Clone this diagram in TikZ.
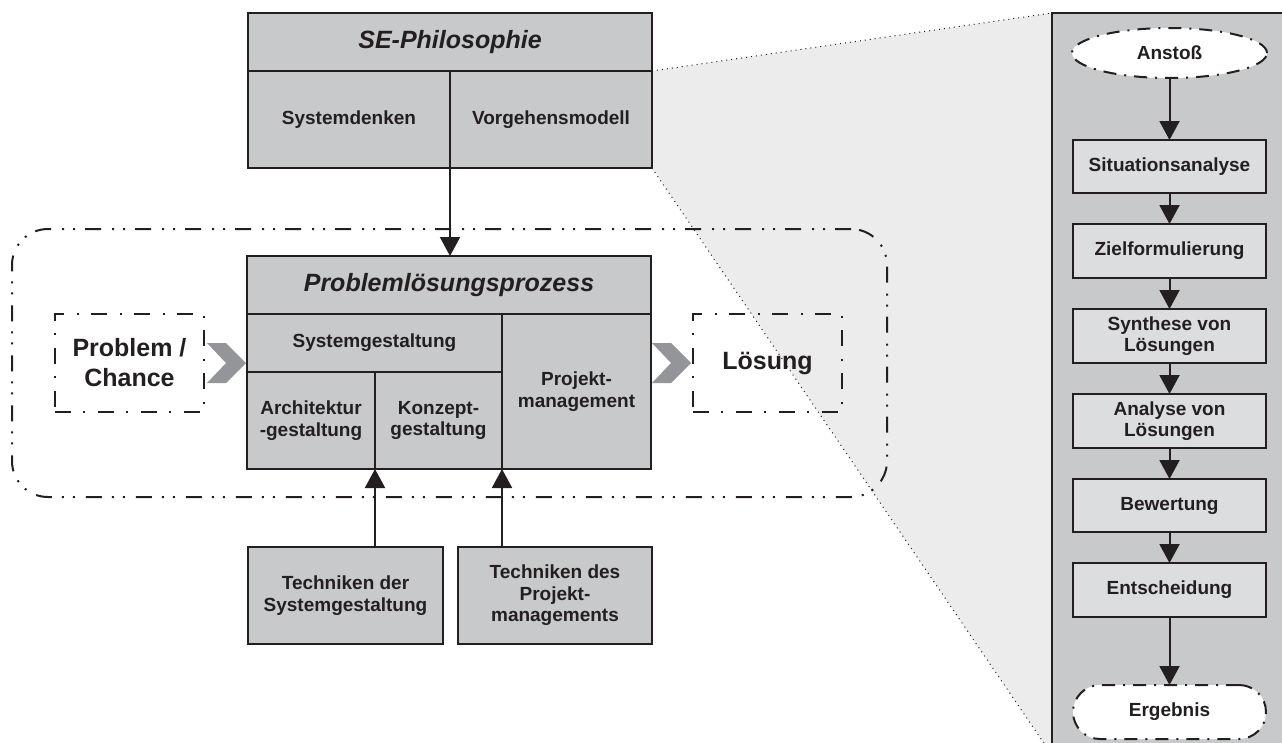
\documentclass[tikz,border=0pt]{standalone}
\usepackage{fontspec}
\setmainfont{Liberation Sans}
\usetikzlibrary{arrows.meta,shapes.geometric,calc,backgrounds}
\definecolor{boxgray}{HTML}{C8C9CB}
\definecolor{lightbox}{HTML}{DCDDDF}
\definecolor{fangray}{HTML}{ECECEC}
\definecolor{chevgray}{HTML}{939598}
\definecolor{ink}{HTML}{231F20}
\begin{document}
\begin{tikzpicture}[x=1pt,y=-1pt,
  every node/.style={text=ink, font=\bfseries\fontsize{19}{21.5}\selectfont, align=center, inner sep=0pt, outer sep=0pt},
  cell/.style={draw=ink, line width=2pt, fill=boxgray},
  titlecell/.style={cell, font=\bfseries\itshape\fontsize{25}{29}\selectfont},
  stepbox/.style={draw=ink, line width=2pt, fill=lightbox, minimum width=193, minimum height=54},
  bigdash/.style={draw=ink, line width=2pt, dash pattern=on 16pt off 10pt on 2pt off 9pt on 2pt off 11pt},
  middash/.style={draw=ink, line width=2pt, dash pattern=on 16pt off 12pt on 2pt off 13pt},
  elldash/.style={draw=ink, line width=2pt, dash pattern=on 13pt off 8pt on 2pt off 8pt},
  bigtext/.style={font=\bfseries\fontsize{25}{30}\selectfont},
  arr/.style={draw=ink, line width=2pt, -{Triangle[width=20pt,length=19pt]}},
  fanline/.style={draw=ink, line width=1pt, dash pattern=on 1pt off 4pt},
  chev/.style={fill=chevgray}
]
\useasboundingbox (0,0) rectangle (1282,742);
\clip (0,0) rectangle (1282,742);

% right panel
\node[draw=ink, line width=2pt, fill=boxgray, minimum width=240, minimum height=742] (panel) at (1172,384) {};

% SE-Philosophie
\node[titlecell, minimum width=404, minimum height=58] (setitle) at (450,42) {SE-Philosophie};
\node[cell, minimum width=202, minimum height=97] (sysd) at (349,119.5) {Systemdenken};
\node[cell, minimum width=202, minimum height=97] (vorg) at (551,119.5) {Vorgehensmodell};

% fan (background)
\begin{scope}[on background layer]
\fill[fangray] (setitle.south east) -- (panel.north west) -- (panel.south west) -- (vorg.south east) -- cycle;
\end{scope}
\draw[fanline] (setitle.south east) -- (panel.north west);
\draw[fanline] (vorg.south east) -- (panel.south west);

% boundary
\node[bigdash, rounded corners=36pt, minimum width=875, minimum height=268] (bound) at (449.5,363) {};

% Problemloesungsprozess
\node[titlecell, minimum width=404, minimum height=58] (pltitle) at (449,285) {Problemlösungsprozess};
\node[cell, minimum width=255, minimum height=58] (sysg) at (374.5,343) {Systemgestaltung};
\node[cell, minimum width=128, minimum height=97] (arch) at (311,420.5) {Architektur\\-gestaltung};
\node[cell, minimum width=127, minimum height=97] (konz) at (438.5,420.5) {Konzept-\\gestaltung};
\node[cell, minimum width=149, minimum height=155] (proj) at (576.5,391.5) {Projekt-\\management};

% Problem / Loesung
\node[middash, bigtext, minimum width=149, minimum height=98] (prob) at (129.5,363) {Problem /\\Chance};
\node[middash, bigtext, minimum width=149, minimum height=98] (loes) at (767.5,363) {Lösung};

% chevrons
\fill[chev] ($(prob.east)+(3,-20)$) -- ++(19,0) -- ($(prob.east)+(42,0)$) -- ($(prob.east)+(22,20)$) -- ++(-19,0) -- ($(prob.east)+(22,0)$) -- cycle;
\fill[chev] ($(loes.west)+(-41,-20)$) -- ++(19,0) -- ($(loes.west)+(-2,0)$) -- ($(loes.west)+(-22,20)$) -- ++(-19,0) -- ($(loes.west)+(-22,0)$) -- cycle;

% Techniken
\node[cell, minimum width=195, minimum height=97] (tech1) at (345.5,595.5) {Techniken der\\Systemgestaltung};
\node[cell, minimum width=194, minimum height=97] (tech2) at (555,595.5) {Techniken des\\Projekt-\\managements};

% arrows main
\draw[arr] (sysd.south east) -- (sysd.south east |- pltitle.north);
\draw[arr] (tech1.north -| arch.east) -- (arch.south east);
\draw[arr] (tech2.north -| konz.east) -- (konz.south east);

% right panel steps
\node[ellipse, elldash, fill=white, minimum width=195, minimum height=50] (anstoss) at (1169.5,53) {Anstoß};
\node[stepbox, minimum height=53] (sit) at (1169.5,166.5) {Situationsanalyse};
\node[stepbox] (ziel) at (1169.5,251) {Zielformulierung};
\node[stepbox] (synth) at (1169.5,336) {Synthese von\\Lösungen};
\node[stepbox] (anal) at (1169.5,421) {Analyse von\\Lösungen};
\node[stepbox, minimum height=53] (bew) at (1169.5,505.5) {Bewertung};
\node[stepbox] (ent) at (1169.5,590) {Entscheidung};
\node[elldash, fill=white, rounded corners=27pt, minimum width=193, minimum height=54] (erg) at (1169.5,712) {Ergebnis};

\draw[arr] (anstoss) -- (sit);
\draw[arr] (sit) -- (ziel);
\draw[arr] (ziel) -- (synth);
\draw[arr] (synth) -- (anal);
\draw[arr] (anal) -- (bew);
\draw[arr] (bew) -- (ent);
\draw[arr] (ent) -- (erg);
\end{tikzpicture}
\end{document}
